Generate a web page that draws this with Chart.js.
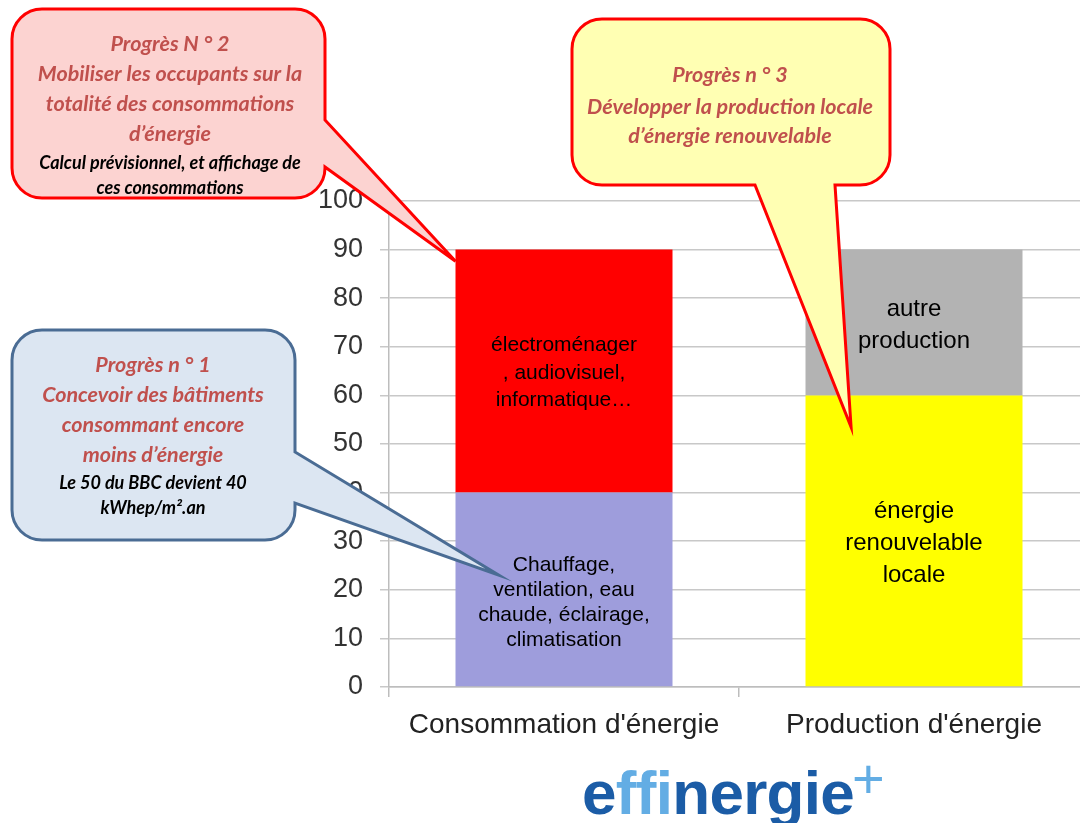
<!DOCTYPE html>
<html lang="fr">
<head>
<meta charset="utf-8">
<title>Consommation et production d'énergie</title>
<script src="https://cdn.jsdelivr.net/npm/chart.js@4.4.0/dist/chart.umd.min.js"></script>
<style>
  html, body { margin: 0; padding: 0; background: #fff; width: 1080px; height: 823px; overflow: hidden; }
  #wrap { position: absolute; left: 0; top: 0; width: 1090px; height: 823px; }
  .logo { position: absolute; font-family: "Liberation Sans", Arial, sans-serif; line-height: 1; white-space: nowrap; }
  #logo { left: 582px; top: 762px; font-size: 62px; font-weight: bold; letter-spacing: -0.7px; color: #1b5ca6; }
  #logo .light { color: #63ade4; }
  #plus { left: 852px; top: 751px; font-size: 56px; color: #63ade4; }
</style>
</head>
<body>
<div id="wrap"><canvas id="chart" width="1090" height="823"></canvas></div>
<div class="logo" id="logo">e<span class="light">ffi</span>nergie</div>
<div class="logo" id="plus">+</div>
<script>
// données
var categories = ["Consommation d'énergie", "Production d'énergie"];
var baseValues = [40, 60];   // chauffage... / énergie renouvelable locale
var topValues = [50, 30];    // électroménager... / autre production
var baseColors = ["#9e9ddc", "#ffff00"];
var topColors = ["#ff0000", "#b3b3b3"];
var baseLabels = [
    ["Chauffage,", "ventilation, eau", "chaude, éclairage,", "climatisation"],
    ["énergie", "renouvelable", "locale"]
];
var topLabels = [
    ["électroménager", ", audiovisuel,", "informatique…"],
    ["autre", "production"]
];
var yMin = 0, yMax = 100, yStep = 10;

// style des libellés dans les barres : [dataset][catégorie]
var segFont = [
    [{size: 21, lh: 25, dy: 13}, {size: 24, lh: 32, dy: 3}],
    [{size: 21, lh: 27.5, dy: 2}, {size: 24, lh: 32, dy: 3}]
];

// bulles (position en pixels, pointe donnée en valeur de l'axe)
var bubbles = [
    {
        x: 12, y: 9, w: 313, h: 189, r: 30, fill: "#fcd3d1", stroke: "#ff0000",
        side: "right", t1: 120, t2: 167, tip: {bar: 0, frac: 0, val: 87.6},
        cx: 170,
        lines: [
            {t: "Progrès N ° 2", y: 44, red: true},
            {t: "Mobiliser les occupants sur la", y: 74, red: true},
            {t: "totalité des consommations", y: 104, red: true},
            {t: "d’énergie", y: 134, red: true},
            {t: "Calcul prévisionnel, et affichage de", y: 163},
            {t: "ces consommations", y: 188}
        ]
    },
    {
        x: 572, y: 19, w: 318, h: 166, r: 30, fill: "#ffffb3", stroke: "#ff0000",
        side: "bottom", t1: 755, t2: 835, tip: {bar: 1, frac: 0.21, val: 53.5},
        cx: 730,
        lines: [
            {t: "Progrès n ° 3", y: 75, red: true},
            {t: "Développer la production locale", y: 107, red: true},
            {t: "d’énergie renouvelable", y: 136, red: true}
        ]
    },
    {
        x: 12, y: 330, w: 283, h: 210, r: 30, fill: "#dce6f2", stroke: "#4a6c94",
        side: "right", t1: 452, t2: 503, tip: {bar: 0, frac: 0.2, val: 23},
        cx: 153,
        lines: [
            {t: "Progrès n ° 1", y: 365, red: true},
            {t: "Concevoir des bâtiments", y: 395, red: true},
            {t: "consommant encore", y: 425, red: true},
            {t: "moins d’énergie", y: 455, red: true},
            {t: "Le 50 du BBC devient 40", y: 483},
            {t: "kWhep/m².an", y: 508}
        ]
    }
];

function bubblePath(ctx, b, tx, ty) {
    var l = b.x, t = b.y, r = b.x + b.w, bt = b.y + b.h, rad = b.r;
    ctx.beginPath();
    ctx.moveTo(l + rad, t);
    ctx.lineTo(r - rad, t);
    ctx.arcTo(r, t, r, t + rad, rad);
    if (b.side == "right") {
        ctx.lineTo(r, b.t1);
        ctx.lineTo(tx, ty);
        ctx.lineTo(r, b.t2);
    }
    ctx.lineTo(r, bt - rad);
    ctx.arcTo(r, bt, r - rad, bt, rad);
    if (b.side == "bottom") {
        ctx.lineTo(b.t2, bt);
        ctx.lineTo(tx, ty);
        ctx.lineTo(b.t1, bt);
    }
    ctx.lineTo(l + rad, bt);
    ctx.arcTo(l, bt, l, bt - rad, rad);
    ctx.lineTo(l, t + rad);
    ctx.arcTo(l, t, l + rad, t, rad);
    ctx.closePath();
}

var segmentText = {
    id: "segmentText",
    afterDatasetsDraw: function (chart) {
        var ctx = chart.ctx;
        var sets = [baseLabels, topLabels];
        ctx.save();
        ctx.fillStyle = "#000";
        ctx.textAlign = "center";
        ctx.textBaseline = "middle";
        chart.data.datasets.forEach(function (ds, di) {
            var meta = chart.getDatasetMeta(di);
            meta.data.forEach(function (bar, i) {
                var lines = sets[di][i];
                var f = segFont[di][i];
                var mid = (bar.y + bar.base) / 2 + f.dy;
                ctx.font = f.size + "px 'Liberation Sans', Arial, sans-serif";
                var y0 = mid - (lines.length - 1) * f.lh / 2;
                lines.forEach(function (s, k) {
                    ctx.fillText(s, bar.x, y0 + k * f.lh);
                });
            });
        });
        ctx.restore();
    }
};

var callouts = {
    id: "callouts",
    afterDraw: function (chart) {
        var ctx = chart.ctx;
        var yScale = chart.scales.y;
        ctx.save();
        bubbles.forEach(function (b) {
            var bar = chart.getDatasetMeta(0).data[b.tip.bar];
            var left = bar.x - bar.width / 2;
            var tx = left + b.tip.frac * bar.width;
            var ty = yScale.getPixelForValue(b.tip.val);
            bubblePath(ctx, b, tx, ty);
            ctx.fillStyle = b.fill;
            ctx.fill();
            ctx.lineWidth = 3;
            ctx.lineJoin = "miter";
            ctx.strokeStyle = b.stroke;
            ctx.stroke();
            ctx.textAlign = "center";
            ctx.textBaseline = "middle";
            b.lines.forEach(function (ln) {
                if (ln.red) {
                    ctx.font = "italic bold 21.5px Lato, 'Open Sans', sans-serif";
                    ctx.fillStyle = "#c0504d";
                } else {
                    ctx.font = "italic bold 18px Lato, 'Open Sans', sans-serif";
                    ctx.fillStyle = "#000";
                }
                ctx.fillText(ln.t, b.cx, ln.y);
            });
        });
        ctx.restore();
    }
};

var ctx_chart = document.getElementById("chart").getContext("2d");
var chart = new Chart(ctx_chart, {
    type: "bar",
    data: {
        labels: categories,
        datasets: [{
                label: "base",
                data: baseValues,
                backgroundColor: baseColors,
                barPercentage: 0.62,
                categoryPercentage: 1
            },
            {
                label: "haut",
                data: topValues,
                backgroundColor: topColors,
                barPercentage: 0.62,
                categoryPercentage: 1
            }
        ]
    },
    options: {
        responsive: false,
        animation: false,
        devicePixelRatio: 1,
        layout: {
            padding: {left: 300, top: 201, right: 1, bottom: 0}
        },
        plugins: {
            legend: {display: false},
            tooltip: {enabled: false}
        },
        scales: {
            x: {
                stacked: true,
                afterFit: function (s) { s.height = 136; },
                grid: {
                    offset: true,
                    drawOnChartArea: false,
                    tickLength: 10,
                    color: "#bdbdbd",
                    lineWidth: 1.5
                },
                border: {color: "#bdbdbd", width: 1.5},
                ticks: {
                    color: "#222",
                    padding: 11,
                    font: {family: "'Liberation Sans', Arial, sans-serif", size: 28}
                }
            },
            y: {
                stacked: true,
                min: yMin,
                max: yMax,
                afterFit: function (s) { s.width = 89; },
                grid: {
                    color: "#c8c8c8",
                    lineWidth: 1.5,
                    tickLength: 9
                },
                border: {color: "#bdbdbd", width: 1.5},
                ticks: {
                    stepSize: yStep,
                    color: "#333",
                    padding: 17,
                    font: {family: "'Liberation Sans', Arial, sans-serif", size: 27}
                }
            }
        }
    },
    plugins: [segmentText, callouts]
});
</script>
</body>
</html>
